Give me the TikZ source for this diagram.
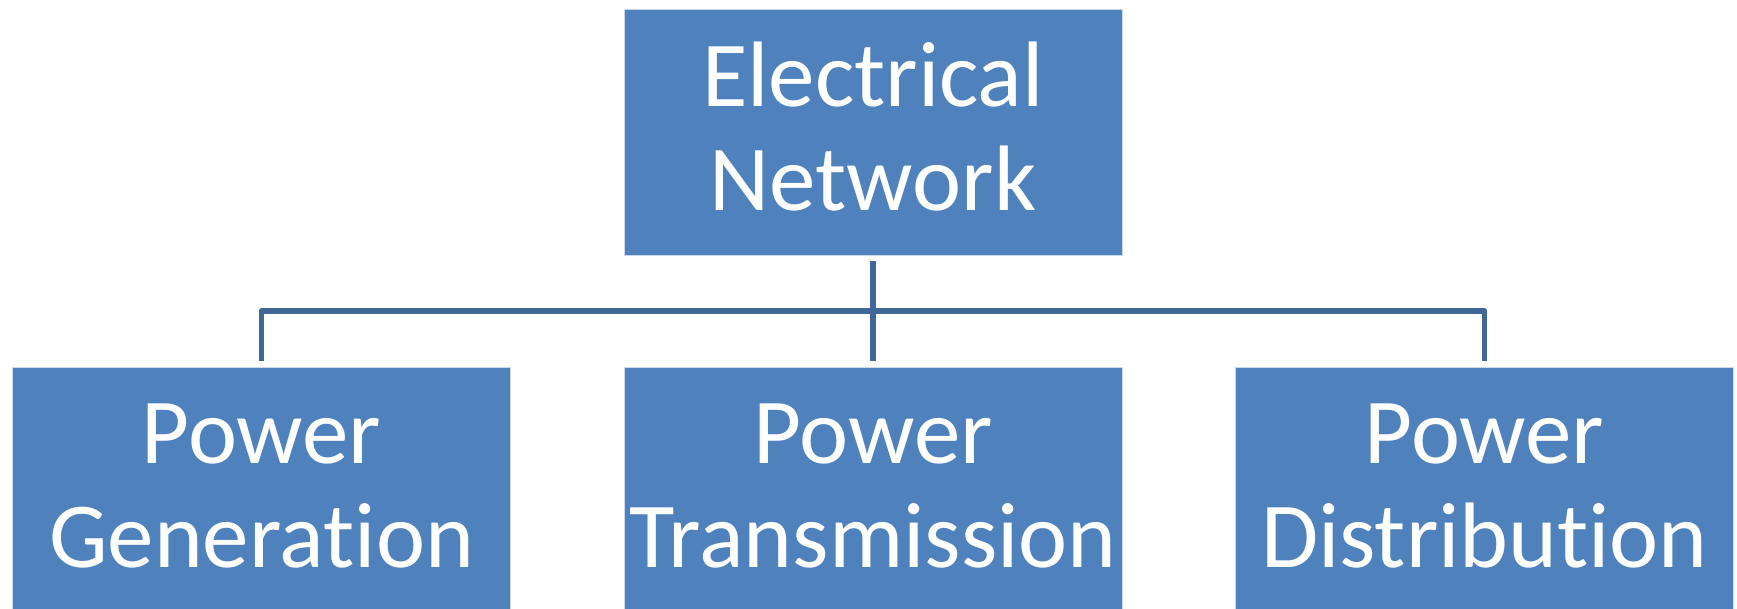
\documentclass[tikz,border=0pt]{standalone}
\usepackage{fontspec}
\setmainfont{Carlito}[Ligatures=NoCommon]
\definecolor{boxblue}{HTML}{4F81BD}
\definecolor{linkblue}{HTML}{3F6797}
\begin{document}
\begin{tikzpicture}[x=1pt,y=-1pt,
  box/.style={rectangle, fill=boxblue, draw=white!70!boxblue, line width=0.8pt,
    minimum width=498pt, inner sep=0pt},
  label/.style={align=center, text=white, inner sep=0pt,
    font=\fontsize{93}{104}\selectfont},
  conn/.style={draw=linkblue, line width=5.5pt, line join=round}]
\useasboundingbox (0,0) rectangle (1737,609);
\node[box, minimum height=246pt] (top) at (873,132) {};
\node[box, minimum height=242pt] (gen) at (261.5,488) {};
\node[box, minimum height=242pt] (tra) at (873,488) {};
\node[box, minimum height=242pt] (dis) at (1484.5,488) {};
\node[label] (topT) at (873,127) {Electrical\\Network};
\node[label] (genT) at (261.5,486) {Power\\Generation};
\node[label] (traT) at (873,486) {Power\\Transmission};
\node[label] (disT) at (1484.5,486) {Power\\Distribution};
\coordinate (bus) at (873,311);
\draw[conn] ([yshift=-6pt]top.south) -- ([yshift=6pt]tra.north);
\draw[conn] ([yshift=6pt]gen.north) -- (gen.north |- bus) -- (dis.north |- bus) -- ([yshift=6pt]dis.north);
\end{tikzpicture}
\end{document}
